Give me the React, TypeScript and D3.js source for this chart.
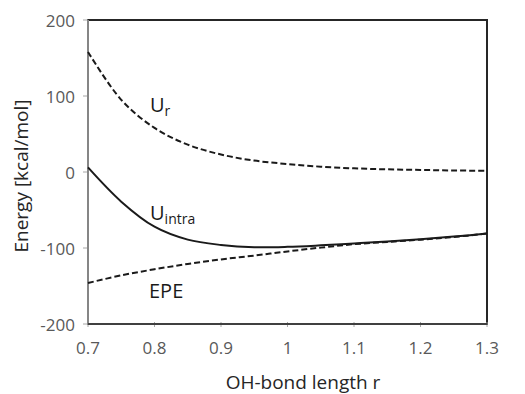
import React, { useEffect, useRef } from 'react'
import * as d3 from 'd3'

// bond length r (x values shared by all three curves)
const rValues = [0.7, 0.75, 0.8, 0.85, 0.9, 0.95, 1.0, 1.05, 1.1, 1.15, 1.2, 1.25, 1.3]

// energies, kcal/mol
const urValues = [158, 95, 58, 36, 23, 15, 10.5, 7, 4.8, 3.5, 2.7, 2, 1.6]
const uintraValues = [6, -39, -72, -89, -96, -99, -98.5, -96.5, -94, -91.5, -88.5, -85, -81]
const epeValues = [-146, -136, -128, -121, -115, -110, -104.5, -99.5, -95, -92, -89, -85.5, -81]

const xTicks = [0.7, 0.8, 0.9, 1.0, 1.1, 1.2, 1.3]
const yTicks = [200, 100, 0, -100, -200]

const FONT = "'Open Sans', 'Liberation Sans', sans-serif"

const App = () => {
    const ref = useRef<SVGSVGElement | null>(null)

    useEffect(() => {
        const svg = d3.select(ref.current)
        svg.selectAll('*').remove()

        const left = 88, right = 487, top = 20, bottom = 324

        const xScale = d3.scaleLinear().domain([0.7, 1.3]).range([left, right])
        const yScale = d3.scaleLinear().domain([-200, 200]).range([bottom, top])

        const g = svg.append('g')

        // frame: top and right border
        g.append('rect')
            .attr('x', left)
            .attr('y', top)
            .attr('width', right - left)
            .attr('height', bottom - top)
            .attr('fill', 'none')
            .attr('stroke', '#262626')
            .attr('stroke-width', 2)

        // y axis ticks + labels
        g.selectAll('.ytick')
            .data(yTicks)
            .join('line')
            .attr('x1', left - 5)
            .attr('x2', left)
            .attr('y1', d => yScale(d))
            .attr('y2', d => yScale(d))
            .attr('stroke', '#a6a6a6')
            .attr('stroke-width', 1)

        g.selectAll('.ylab')
            .data(yTicks)
            .join('text')
            .attr('x', 75)
            .attr('y', d => yScale(d) + 7)
            .attr('text-anchor', 'end')
            .attr('font-family', FONT)
            .attr('font-size', 17)
            .attr('fill', '#595959')
            .text(d => d)

        // x axis ticks + labels
        g.selectAll('.xtick')
            .data(xTicks)
            .join('line')
            .attr('x1', d => xScale(d))
            .attr('x2', d => xScale(d))
            .attr('y1', bottom - 2)
            .attr('y2', bottom + 3)
            .attr('stroke', '#a6a6a6')
            .attr('stroke-width', 1)

        g.selectAll('.xlab')
            .data(xTicks)
            .join('text')
            .attr('x', d => xScale(d))
            .attr('y', 354)
            .attr('text-anchor', 'middle')
            .attr('font-family', FONT)
            .attr('font-size', 17)
            .attr('fill', '#595959')
            .text(d => d3.format('~g')(d))

        // axis lines
        g.append('line')
            .attr('x1', left)
            .attr('x2', left)
            .attr('y1', top)
            .attr('y2', bottom)
            .attr('stroke', '#868686')
            .attr('stroke-width', 2)

        g.append('line')
            .attr('x1', left)
            .attr('x2', right)
            .attr('y1', bottom)
            .attr('y2', bottom)
            .attr('stroke', '#404040')
            .attr('stroke-width', 2)

        const line = d3.line<number>()
            .x((_, i) => xScale(rValues[i]))
            .y(d => yScale(d))
            .curve(d3.curveCatmullRom.alpha(0.5))

        const series = [
            { values: urValues, dash: '6,3' },
            { values: epeValues, dash: '6,3' },
            { values: uintraValues, dash: null },
        ]

        g.selectAll('.curve')
            .data(series)
            .join('path')
            .attr('d', d => line(d.values))
            .attr('fill', 'none')
            .attr('stroke', '#1a1a1a')
            .attr('stroke-width', 2)
            .attr('stroke-dasharray', d => d.dash)

        // curve labels
        const addLabel = (x: number, y: number, main: string, sub: string | null) => {
            const t = g.append('text')
                .attr('x', x)
                .attr('y', y)
                .attr('font-family', FONT)
                .attr('font-size', 20)
                .attr('fill', '#1a1a1a')
            t.append('tspan').text(main)
            if (sub) {
                t.append('tspan')
                    .attr('dy', 4)
                    .attr('font-size', 14)
                    .text(sub)
            }
        }
        addLabel(150, 112, 'U', 'r')
        addLabel(150, 220, 'U', 'intra')
        addLabel(149, 298, 'EPE', null)

        // axis titles
        g.append('text')
            .attr('transform', 'translate(28,176) rotate(-90)')
            .attr('text-anchor', 'middle')
            .attr('font-family', FONT)
            .attr('font-size', 19)
            .attr('fill', '#262626')
            .text('Energy [kcal/mol]')

        g.append('text')
            .attr('x', 303)
            .attr('y', 389)
            .attr('text-anchor', 'middle')
            .attr('font-family', FONT)
            .attr('font-size', 19)
            .attr('fill', '#262626')
            .text('OH-bond length r')
    }, [])

    return (
        <svg
            ref={ref}
            width={525}
            height={394}
            style={{ position: 'absolute', left: 0, top: 0, background: '#fff' }}
        />
    )
}

export default App
